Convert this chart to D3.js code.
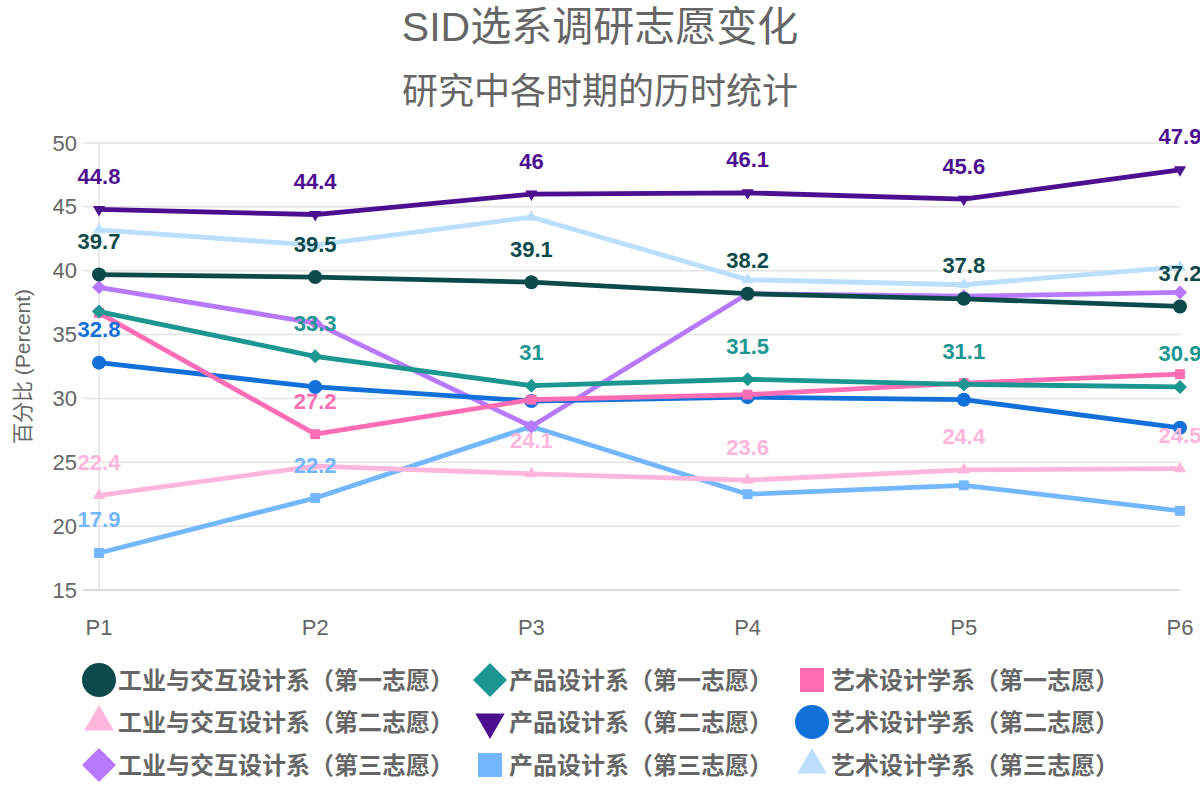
<!DOCTYPE html>
<html>
<head>
<meta charset="utf-8">
<script src="https://cdn.jsdelivr.net/npm/d3@7"></script>
<style>
  body { margin: 0; background: #fff; }
  svg { display: block; }
  text { font-family: "Liberation Sans", "Noto Sans CJK SC", sans-serif; }
</style>
</head>
<body>
<svg id="chart" width="1200" height="800"></svg>
<script>
// 数据
const periods = ["P1", "P2", "P3", "P4", "P5", "P6"];
const yTicks = [15, 20, 25, 30, 35, 40, 45, 50];

const seriesNames = [
  "工业与交互设计系（第一志愿）", "产品设计系（第一志愿）", "艺术设计学系（第一志愿）",
  "工业与交互设计系（第二志愿）", "产品设计系（第二志愿）", "艺术设计学系（第二志愿）",
  "工业与交互设计系（第三志愿）", "产品设计系（第三志愿）", "艺术设计学系（第三志愿）"
];
const seriesColors = [
  "#0b4a4a", "#1b9690", "#ff6eb4",
  "#ffb6dc", "#4b0f90", "#1170da",
  "#b779ff", "#72b7ff", "#bcdeff"
];
const seriesShapes = [
  "circle", "rectRot", "rect",
  "triangle", "triangleDown", "circle",
  "rectRot", "rect", "triangle"
];

const industrial1 = [39.7, 39.5, 39.1, 38.2, 37.8, 37.2];
const product1    = [36.8, 33.3, 31.0, 31.5, 31.1, 30.9];
const art1        = [36.7, 27.2, 29.9, 30.3, 31.2, 31.9];
const industrial2 = [22.4, 24.7, 24.1, 23.6, 24.4, 24.5];
const product2    = [44.8, 44.4, 46.0, 46.1, 45.6, 47.9];
const art2        = [32.8, 30.9, 29.8, 30.1, 29.9, 27.7];
const industrial3 = [38.7, 35.9, 27.8, 38.2, 38.0, 38.3];
const product3    = [17.9, 22.2, 27.8, 22.5, 23.2, 21.2];
const art3        = [43.2, 42.0, 44.2, 39.3, 38.9, 40.3];

const seriesValues = [industrial1, product1, art1, industrial2, product2, art2, industrial3, product3, art3];

const series = seriesNames.map((name, i) => ({
  name, color: seriesColors[i], shape: seriesShapes[i], values: seriesValues[i]
}));

const svg = d3.select("#chart");
const margin = { top: 143, right: 20, bottom: 210, left: 99 };
const width = 1200 - margin.left - margin.right;
const height = 800 - margin.top - margin.bottom;
const textGray = "#666";

const x = d3.scalePoint().domain(periods).range([margin.left, margin.left + width]);
const y = d3.scaleLinear().domain([15, 50]).range([margin.top + height, margin.top]);

// 点的形状 (半径 r)
function shapePath(shape, r) {
  const p = d3.path();
  if (shape === "circle") {
    p.arc(0, 0, r, 0, Math.PI * 2);
  } else if (shape === "rect") {
    const s = r / Math.SQRT2;
    p.rect(-s, -s, 2 * s, 2 * s);
  } else if (shape === "rectRot") {
    p.moveTo(0, -r); p.lineTo(r, 0); p.lineTo(0, r); p.lineTo(-r, 0); p.closePath();
  } else {
    const edge = r * Math.sqrt(3);
    const h = edge * Math.sqrt(3) / 2;
    const dir = shape === "triangle" ? 1 : -1;
    p.moveTo(0, -dir * 2 * h / 3);
    p.lineTo(edge / 2, dir * h / 3);
    p.lineTo(-edge / 2, dir * h / 3);
    p.closePath();
  }
  return p.toString();
}

// 标题
svg.append("text")
  .attr("x", 600).attr("y", 27)
  .attr("text-anchor", "middle").attr("dominant-baseline", "central")
  .style("font-size", "41px").style("fill", textGray)
  .text("SID选系调研志愿变化");

svg.append("text")
  .attr("x", 600).attr("y", 91)
  .attr("text-anchor", "middle").attr("dominant-baseline", "central")
  .style("font-size", "36px").style("fill", textGray)
  .text("研究中各时期的历时统计");

// 网格
const grid = svg.append("g");
grid.selectAll("line.h")
  .data(yTicks)
  .join("line")
  .attr("x1", margin.left - 16).attr("x2", margin.left + width)
  .attr("y1", d => y(d)).attr("y2", d => y(d))
  .attr("stroke", d => d === 15 ? "#cfcfcf" : "#e3e3e3")
  .attr("stroke-width", 1.5);

grid.append("line")
  .attr("x1", margin.left).attr("x2", margin.left)
  .attr("y1", margin.top).attr("y2", margin.top + height)
  .attr("stroke", "#e3e3e3").attr("stroke-width", 1.5);

// Y 轴刻度
svg.append("g")
  .selectAll("text")
  .data(yTicks)
  .join("text")
  .attr("x", margin.left - 22)
  .attr("y", d => y(d))
  .attr("text-anchor", "end").attr("dominant-baseline", "central")
  .style("font-size", "22px").style("fill", textGray)
  .text(d => d);

// X 轴刻度
svg.append("g")
  .selectAll("text")
  .data(periods)
  .join("text")
  .attr("x", d => x(d))
  .attr("y", margin.top + height + 37)
  .attr("text-anchor", "middle").attr("dominant-baseline", "central")
  .style("font-size", "22px").style("fill", textGray)
  .text(d => d);

// Y 轴标题
svg.append("text")
  .attr("transform", `translate(22, ${margin.top + height / 2}) rotate(-90)`)
  .attr("text-anchor", "middle").attr("dominant-baseline", "central")
  .style("font-size", "21px").style("fill", textGray)
  .text("百分比 (Percent)");

// 折线 (第一个数据集画在最上面)
const line = d3.line()
  .x((d, i) => x(periods[i]))
  .y(d => y(d));

const drawOrder = series.slice().reverse();

const plot = svg.append("g");
drawOrder.forEach(s => {
  const g = plot.append("g");
  g.append("path")
    .datum(s.values)
    .attr("fill", "none")
    .attr("stroke", s.color)
    .attr("stroke-width", 4.8)
    .attr("stroke-linejoin", "round")
    .attr("d", line);

  g.selectAll("path.pt")
    .data(s.values)
    .join("path")
    .attr("class", "pt")
    .attr("transform", (d, i) => `translate(${x(periods[i])},${y(d)})`)
    .attr("d", shapePath(s.shape, 7))
    .attr("fill", s.color);
});

// 数据标签：重叠时隐藏，靠前的系列优先
const labelLayer = svg.append("g");
const placed = [];
const boxHalfH = 24;
series.forEach(s => {
  s.values.forEach((v, i) => {
    const t = labelLayer.append("text")
      .attr("x", x(periods[i]))
      .attr("y", y(v) - 33)
      .attr("text-anchor", "middle").attr("dominant-baseline", "central")
      .style("font-size", "22px").style("font-weight", "bold")
      .style("fill", s.color)
      .text(v);
    const bb = t.node().getBBox();
    const box = { x0: bb.x - 4, x1: bb.x + bb.width + 4, y0: y(v) - 33 - boxHalfH, y1: y(v) - 33 + boxHalfH };
    const hit = placed.some(b => box.x0 < b.x1 && box.x1 > b.x0 && box.y0 < b.y1 && box.y1 > b.y0);
    if (hit) { t.remove(); } else { placed.push(box); }
  });
});

// 图例
const legendCols = [99, 490, 812];
const legendRows = [680, 722, 765];
const legend = svg.append("g");
series.forEach((s, i) => {
  const cx = legendCols[i % 3];
  const cy = legendRows[Math.floor(i / 3)];
  legend.append("path")
    .attr("transform", `translate(${cx},${cy})`)
    .attr("d", shapePath(s.shape, 17))
    .attr("fill", s.color);
  legend.append("text")
    .attr("x", cx + 19).attr("y", cy)
    .attr("dominant-baseline", "central")
    .style("font-size", "24px").style("font-weight", "bold")
    .style("fill", textGray)
    .text(s.name);
});
</script>
</body>
</html>
